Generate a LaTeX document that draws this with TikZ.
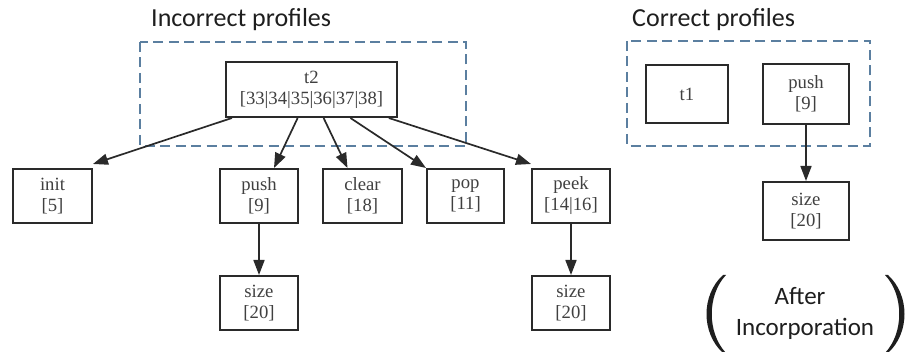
\documentclass[tikz,border=0pt]{standalone}
\usepackage{fontspec}
\setmainfont{Liberation Serif}
\newfontfamily\serifbox{Liberation Serif}
\newfontfamily\calib{Carlito}
\usetikzlibrary{arrows.meta,calc}

\definecolor{boxline}{HTML}{2A2A2A}
\definecolor{boxtext}{HTML}{404040}
\definecolor{groupline}{HTML}{5B7FA0}
\definecolor{titletext}{HTML}{1E1E1E}

\tikzset{
  fn/.style={draw=boxline, line width=2pt, text=boxtext, inner sep=0pt,
    align=center, font=\serifbox\fontsize{18.7}{21}\selectfont,
    minimum width=#1, minimum height=54pt},
  fn/.default=78pt,
  edge/.style={draw=boxline, line width=1.7pt,
    -{Triangle[length=15pt,width=11pt]}},
  group/.style={draw=groupline, line width=2.2pt, dash pattern=on 10pt off 5.5pt},
  heading/.style={text=titletext, inner sep=0pt, anchor=base west,
    font=\calib\fontsize{26}{30}\selectfont},
  note/.style={text=titletext, inner sep=0pt, anchor=base,
    font=\calib\fontsize{25}{30}\selectfont}
}

\begin{document}
\begin{tikzpicture}[x=1pt, y=-1pt]
\useasboundingbox (0,0) rectangle (908,352);

% group frames
\draw[group] (140,42) rectangle (466,146);
\draw[group] (627,41) rectangle (870,146);

% headings
\node[heading] (hinc) at (151,27) {Incorrect profiles};
\node[heading] (hcor) at (632,27) {Correct profiles};

% incorrect profile tree
\node[fn=171pt, minimum height=55pt] (t2) at (311.5,89.5) {t2\\{}[33|34|35|36|37|38]};
\node[fn=79pt] (init)  at (52.5,196) {init\\{}[5]};
\node[fn=78pt] (push)  at (259,196)  {push\\{}[9]};
\node[fn=79pt] (clear) at (362.5,196) {clear\\{}[18]};
\node[fn=77pt] (pop)   at (465.5,196) {pop\\{}[11]};
\node[fn=78pt] (peek)  at (571,196)  {peek\\{}[14|16]};
\node[fn=78pt] (sizeA) at (259,303)  {size\\{}[20]};
\node[fn=78pt] (sizeB) at (571,303)  {size\\{}[20]};

\draw[edge] ($(t2.south west)!0.04!(t2.south east)$) -- ($(init.north east)+(0,-4)$);
\draw[edge] ($(t2.south west)!0.42!(t2.south east)$) -- ($(push.north)+(15,0)$);
\draw[edge] ($(t2.south west)!0.57!(t2.south east)$) -- ($(clear.north)+(-15,0)$);
\draw[edge] ($(t2.south west)!0.725!(t2.south east)$) -- (pop.north west);
\draw[edge] ($(t2.south west)!0.947!(t2.south east)$) -- ($(peek.north west)+(0,-4)$);
\draw[edge] (push.south) -- (sizeA.north);
\draw[edge] (peek.south) -- (sizeB.north);

% correct profile tree
\node[fn=82pt, minimum height=58pt] (t1) at (687,94) {t1};
\node[fn=86pt, minimum height=60pt] (pushR) at (806,94) {push\\{}[9]};
\node[fn=86pt, minimum height=58pt] (sizeR) at (806,211) {size\\{}[20]};
\draw[edge] (pushR.south) -- (sizeR.north);

% bracketed note
\node[note] (after) at (800,305) {After};
\node[note] (incorp) at (805,336) {Incorporation};
\fill[titletext] (723,275) .. controls (701,295) and (701,333) .. (723,353)
  -- (726,353) .. controls (707,333) and (707,295) .. (726,275) -- cycle;
\fill[titletext] (888,275) .. controls (910,295) and (910,333) .. (888,353)
  -- (885,353) .. controls (904,333) and (904,295) .. (885,275) -- cycle;
\end{tikzpicture}
\end{document}
